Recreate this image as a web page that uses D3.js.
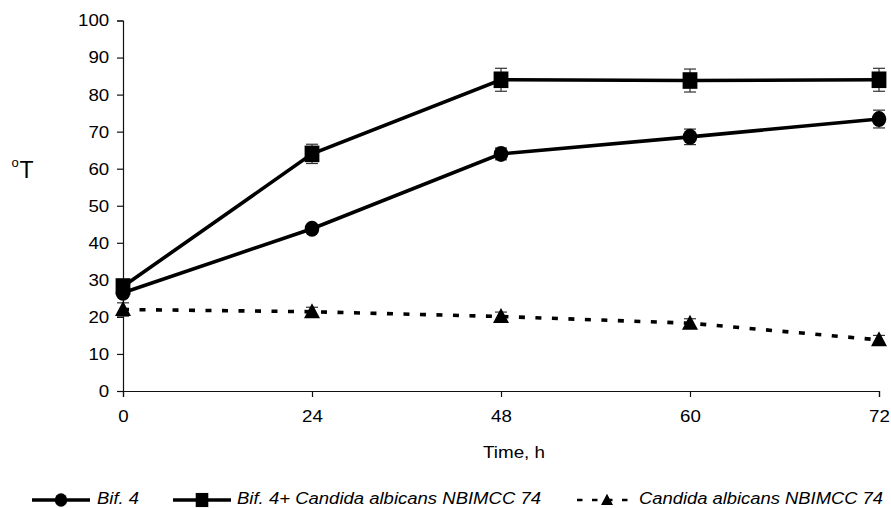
<!DOCTYPE html>
<html>
<head>
<meta charset="utf-8">
<script src="https://cdn.jsdelivr.net/npm/d3@7"></script>
<style>
  html, body { margin: 0; padding: 0; background: #fff; }
  svg { display: block; font-family: Arial, "Liberation Sans", sans-serif; }
</style>
</head>
<body>
<svg id="chart" width="891" height="508"></svg>
<script>
// Titratable acidity (°T) over fermentation time
const timeLabels = ["0", "24", "48", "60", "72"];
const yTicks = [0, 10, 20, 30, 40, 50, 60, 70, 80, 90, 100];

const bifValues      = [26.5, 43.8, 64.0, 68.6, 73.4];
const bifErrors      = [1.0, 1.0, 1.6, 2.1, 2.4];
const mixValues      = [28.2, 64.0, 84.0, 83.8, 84.0];
const mixErrors      = [1.0, 2.6, 3.1, 3.1, 3.1];
const candidaValues  = [22.0, 21.4, 20.1, 18.3, 13.8];
const candidaErrors  = [1.8, 1.2, 1.2, 1.2, 1.2];

const seriesNames = ["Bif. 4", "Bif. 4+ Candida albicans NBIMCC 74", "Candida albicans NBIMCC 74"];

const FONT = "Arial, 'Liberation Sans', sans-serif";
const svg = d3.select("#chart");
const plotLeft = 123, plotRight = 879, plotTop = 20.5, plotBottom = 391;
const textStretch = 1.1;

const x = d3.scalePoint().domain(timeLabels).range([plotLeft, plotRight]);
const y = d3.scaleLinear().domain([0, 100]).range([plotBottom, plotTop]);

// Axes
const yAxis = d3.axisLeft(y).tickValues(yTicks).tickSize(6).tickPadding(6.5);
const gy = svg.append("g").attr("transform", `translate(${plotLeft},0)`).call(yAxis);

const xAxis = d3.axisBottom(x).tickSize(6).tickPadding(13);
const gx = svg.append("g").attr("transform", `translate(0,${plotBottom})`).call(xAxis);

[gx, gy].forEach(g => {
  g.select(".domain").attr("stroke", "#111").attr("stroke-width", 1.2);
  g.selectAll(".tick line").attr("stroke", "#111").attr("stroke-width", 1.2);
  g.selectAll(".tick text")
    .attr("font-size", 17).attr("fill", "#000").attr("font-family", FONT)
    .attr("transform", `scale(${textStretch},1)`);
});

// Axis titles
svg.append("text").attr("x", 11.5).attr("y", 166.5).attr("font-size", 13)
  .attr("fill", "#000").text("o");
svg.append("text").attr("x", 19.5).attr("y", 178).attr("font-size", 23)
  .attr("fill", "#000").text("T");

svg.append("text").attr("x", 483).attr("y", 458)
  .attr("font-size", 17).attr("fill", "#000")
  .attr("textLength", 62).attr("lengthAdjust", "spacingAndGlyphs").text("Time, h");

const series = [
  { values: bifValues, errors: bifErrors, marker: "circle", dash: null },
  { values: mixValues, errors: mixErrors, marker: "square", dash: null },
  { values: candidaValues, errors: candidaErrors, marker: "triangle", dash: "6,10.5" }
];

const line = d3.line().x((d, i) => x(timeLabels[i])).y(d => y(d));

function drawMarker(g, type, cx, cy, s) {
  s = s || 1;
  if (type === "circle") {
    g.append("ellipse").attr("cx", cx).attr("cy", cy).attr("rx", 7.3 * s).attr("ry", 8 * s).attr("fill", "#000");
  } else if (type === "square") {
    g.append("rect").attr("x", cx - 7.4 * s).attr("y", cy - 8.3 * s)
      .attr("width", 14.8 * s).attr("height", 16.6 * s).attr("fill", "#000");
  } else {
    g.append("path")
      .attr("d", `M${cx},${cy - 8.5 * s} L${cx + 8 * s},${cy + 6.5 * s} L${cx - 8 * s},${cy + 6.5 * s} Z`)
      .attr("fill", "#000");
  }
}

// Dashed series first, solid series above it
[2, 0, 1].forEach(k => {
  const s = series[k];
  const g = svg.append("g");
  g.append("path").datum(s.values).attr("d", line).attr("fill", "none")
    .attr("stroke", "#000").attr("stroke-width", 3.6)
    .attr("stroke-dasharray", s.dash);
  s.values.forEach((v, i) => {
    const cx = x(timeLabels[i]);
    const e = s.errors[i];
    g.append("line").attr("x1", cx).attr("x2", cx).attr("y1", y(v - e)).attr("y2", y(v + e))
      .attr("stroke", "#333").attr("stroke-width", 1.2);
    [v - e, v + e].forEach(ev => {
      g.append("line").attr("x1", cx - 6).attr("x2", cx + 6).attr("y1", y(ev)).attr("y2", y(ev))
        .attr("stroke", "#333").attr("stroke-width", 1.2);
    });
    drawMarker(g, s.marker, cx, y(v));
  });
});

// Legend
const legendY = 500;
const legendItems = [
  { x0: 32, x1: 90, tx: 97, w: 42 },
  { x0: 173, x1: 231, tx: 237, w: 304 },
  { x0: 577, x1: 637, tx: 639, w: 244 }
];
legendItems.forEach((it, k) => {
  const s = series[k];
  const g = svg.append("g");
  g.append("line").attr("x1", it.x0).attr("x2", it.x1).attr("y1", legendY).attr("y2", legendY)
    .attr("stroke", "#000").attr("stroke-width", s.dash ? 2.6 : 3.3)
    .attr("stroke-dasharray", s.dash ? "5.5,9.5" : null);
  drawMarker(g, s.marker, (it.x0 + it.x1) / 2, legendY, s.dash ? 0.75 : 0.85);
  g.append("text").attr("x", it.tx).attr("y", legendY + 3.5).attr("font-size", 16)
    .attr("font-style", "italic").attr("fill", "#000")
    .attr("textLength", it.w).attr("lengthAdjust", "spacingAndGlyphs")
    .text(seriesNames[k]);
});
</script>
</body>
</html>
